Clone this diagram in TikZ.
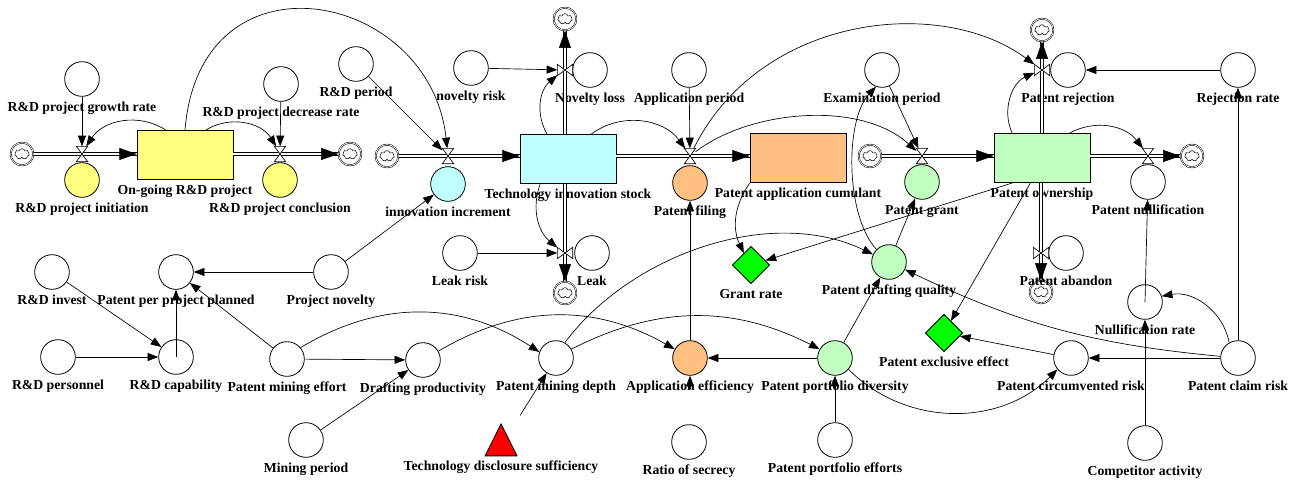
\documentclass[tikz,border=0pt]{standalone}
\usepackage{fontspec}
\setmainfont{Liberation Serif}
\usetikzlibrary{shapes,shapes.geometric,arrows,arrows.meta,positioning,calc}

\definecolor{rdyellow}{HTML}{FFFF80}
\definecolor{techcyan}{HTML}{C0FFFF}
\definecolor{patorange}{HTML}{FFC080}
\definecolor{patgreen}{HTML}{C0FFC0}
\definecolor{rategreen}{HTML}{00FF00}

\begin{document}
\begin{tikzpicture}[
  x=0.75pt, y=-0.75pt,
  line width=0.5pt,
  >={Triangle[length=8pt,width=6pt]},
  lab/.style={font=\bfseries\fontsize{10.3}{12}\selectfont, inner sep=0pt, text height=7pt, text depth=2pt},
  every label/.style={lab},
  label distance=3.5pt,
  aux/.style={circle, draw, line width=0.6pt, minimum size=26pt, inner sep=0pt},
  stock/.style={rectangle, draw, line width=0.6pt, minimum width=72pt, minimum height=37pt, inner sep=0pt},
  rate/.style={diamond, draw, line width=0.6pt, fill=rategreen, minimum size=28pt, inner sep=0pt},
  alarm/.style={isosceles triangle, shape border rotate=90, isosceles triangle stretches,
    draw, line width=0.6pt, fill=red, minimum width=24pt, minimum height=24pt, inner sep=0pt},
  hvalve/.style={rectangle, minimum width=8pt, minimum height=11pt, inner sep=0pt},
  vvalve/.style={rectangle, minimum width=11pt, minimum height=8pt, inner sep=0pt},
  sky/.style={circle, draw, double, double distance=0.5pt, line width=0.4pt, minimum size=17pt, inner sep=0pt,
    path picture={\node[cloud, draw, cloud puffs=7, cloud ignores aspect, minimum width=11pt,
      minimum height=8pt, inner sep=0pt, line width=0.4pt] at (path picture bounding box.center) {};}},
  pipe/.style={double, double distance=2pt, line width=0.6pt},
  flowtip/.style={draw=white, line width=0.4pt, -{Triangle[length=13pt,width=9pt,color=black,fill=black]}},
  info/.style={->}
]
\useasboundingbox (0,0) rectangle (1300,483);

% Stocks
\node[stock, fill=rdyellow, label=below:On-going R\&D project] (rdproj) at (185,155) {};
\node[stock, fill=techcyan, label=below:Technology innovation stock] (techstock) at (568,159) {};
\node[stock, fill=patorange, label=below:Patent application cumulant] (appcum) at (798,158) {};
\node[stock, fill=patgreen, label=below:Patent ownership] (ownership) at (1042,158) {};

% Sources and sinks
\node[sky] (c1) at (22,154) {};
\node[sky] (c2) at (350,154) {};
\node[sky] (c3) at (387,156) {};
\node[sky] (c4) at (565,19) {};
\node[sky] (c5) at (565,293) {};
\node[sky] (c6) at (870,156) {};
\node[sky] (c7) at (1192,156) {};
\node[sky] (c8) at (1042,30) {};
\node[sky] (c9) at (1041,292) {};

% Valves
\node[hvalve] (vinit) at (82,154) {};
\node[hvalve] (vconcl) at (280,154) {};
\node[hvalve] (vinc) at (448,156) {};
\node[hvalve] (vfile) at (690,156) {};
\node[hvalve] (vgrant) at (922,156) {};
\node[hvalve] (vnull) at (1148,156) {};
\node[vvalve] (vloss) at (565,70) {};
\node[vvalve] (vleak) at (565,253) {};
\node[vvalve] (vrej) at (1042,70) {};
\node[vvalve] (vaband) at (1041,253) {};

% Rates
\node[aux, fill=rdyellow, label=below:R\&D project initiation] (initiation) at (82,180) {};
\node[aux, fill=rdyellow, label=below:R\&D project conclusion] (conclusion) at (280,180) {};
\node[aux, fill=techcyan, label=below:innovation increment] (increment) at (448,184) {};
\node[aux, fill=patorange, label=below:Patent filing] (filing) at (690,183) {};
\node[aux, fill=patgreen, label=below:Patent grant] (grant) at (922,182) {};
\node[aux, label=below:Patent nullification] (nullification) at (1148,182) {};
\node[aux, label=below:Novelty loss] (loss) at (590,70) {};
\node[aux, label=below:Leak] (leak) at (592,253) {};
\node[aux, label=below:Patent rejection] (rejection) at (1068,70) {};
\node[aux, label=below:Patent abandon] (abandon) at (1066,253) {};

% Auxiliaries, top
\node[aux, label=below:R\&D project growth rate] (growthrate) at (82,79) {};
\node[aux, label=below:R\&D project decrease rate] (decrrate) at (281,84) {};
\node[aux, label=below:R\&D period] (rdperiod) at (356,64) {};
\node[aux, label=below:novelty risk] (noveltyrisk) at (471,68) {};
\node[aux, label=below:Application period] (appperiod) at (689,70) {};
\node[aux, label=below:Examination period] (examperiod) at (882,70) {};
\node[aux, label=below:Rejection rate] (rejrate) at (1238,70) {};

% Auxiliaries, middle
\node[aux, label=below:Leak risk] (leakrisk) at (460,253) {};
\node[rate, label=below:Grant rate] (grantrate) at (751,265) {};
\node[aux, fill=patgreen, label=below:Patent drafting quality] (draftqual) at (889,262) {};
\node[aux, label=below:R\&D invest] (rdinvest) at (52,272) {};
\node[aux, label=below:Patent per project planned] (perproject) at (176,272) {};
\node[aux, label=below:Project novelty] (projnov) at (331,272) {};
\node[aux, label=below:Nullification rate] (nullrate) at (1145,302) {};
\node[rate, label=below:Patent exclusive effect] (exclusive) at (944,333) {};

% Auxiliaries, bottom
\node[aux, label=below:R\&D personnel] (rdpers) at (58,357) {};
\node[aux, label=below:R\&D capability] (rdcap) at (176,357) {};
\node[aux, label=below:Patent mining effort] (mineff) at (287,359) {};
\node[aux, label=below:Drafting productivity] (draftprod) at (423,360) {};
\node[aux, label=below:Patent mining depth] (minedepth) at (556,358) {};
\node[aux, fill=patorange, label=below:Application efficiency] (appeff) at (690,358) {};
\node[aux, fill=patgreen, label=below:Patent portfolio diversity] (portdiv) at (835,358) {};
\node[aux, label=below:Patent circumvented risk] (circrisk) at (1071,358) {};
\node[aux, label=below:Patent claim risk] (claimrisk) at (1238,358) {};
\node[aux, label=below:Mining period] (minperiod) at (306,440) {};
\node[alarm, label=below:Technology disclosure sufficiency] (disclosure) at (501,446) {};
\node[aux, label=below:Ratio of secrecy] (ratiosec) at (689,442) {};
\node[aux, label=below:Patent portfolio efforts] (portefforts) at (835,440) {};
\node[aux, label=below:Competitor activity] (competitor) at (1145,443) {};
\coordinate (secstub) at (690,389);

% Flow pipes
\draw[pipe] (c1) -- (c1 -| rdproj.west);
\draw[pipe] (rdproj.east |- c2) -- (c2);
\draw[pipe] (c3) -- (c3 -| techstock.west);
\draw[pipe] (techstock.east |- c3) -- (c3 -| appcum.west);
\draw[pipe] (c6) -- (c6 -| ownership.west);
\draw[pipe] (ownership.east |- c7) -- (c7);
\draw[pipe] (c4 |- techstock.north) -- (c4);
\draw[pipe] (c5 |- techstock.south) -- (c5);
\draw[pipe] (c8 |- ownership.north) -- (c8);
\draw[pipe] (c9 |- ownership.south) -- (c9);

% Flow arrow heads
\draw[flowtip] (vinit) -- (c1 -| rdproj.west);
\draw[flowtip] (vconcl) -- (c2);
\draw[flowtip] (vinc) -- (c3 -| techstock.west);
\draw[flowtip] (vfile) -- (c3 -| appcum.west);
\draw[flowtip] (vgrant) -- (c6 -| ownership.west);
\draw[flowtip] (vnull) -- (c7);
\draw[flowtip] (vloss) -- (c4);
\draw[flowtip] (vleak) -- (c5);
\draw[flowtip] (vrej) -- (c8);
\draw[flowtip] (vaband) -- (c9);

% Valve symbols
\foreach \v in {vinit,vconcl,vinc,vfile,vgrant,vnull}
  \draw[fill=white] (\v.north west) -- (\v.south east) -- (\v.south west) -- (\v.north east) -- cycle;
\foreach \v in {vloss,vleak,vrej,vaband}
  \draw[fill=white] (\v.north west) -- (\v.south west) -- (\v.north east) -- (\v.south east) -- cycle;

% R&D project links
\draw[info] (growthrate) -- (vinit);
\draw[info] (rdproj.128) to[bend right=45] (vinit);
\draw[info] (decrrate) -- (vconcl);
\draw[info] (rdproj.50) to[bend left=45] (vconcl);
\draw[info] (rdproj.north) .. controls (200,-55) and (430,-10) .. (vinc);

% Technology innovation links
\draw[info] (rdperiod) -- (vinc);
\draw[info] (projnov) -- (increment);
\draw[info] (noveltyrisk) -- (vloss);
\draw[info] (techstock.130) to[bend left=40] (vloss);
\draw[info] (leakrisk) -- (vleak);
\draw[info] (techstock.222) to[bend right=35] (vleak);
\draw[info] (techstock.47) to[bend left=45] (vfile);

% Patent application links
\draw[info] (appperiod) -- (vfile);
\draw[info] (appeff) -- (filing);
\draw[info] (vfile) .. controls (760,15) and (940,-5) .. (vrej);
\draw[info] (vfile) .. controls (750,110) and (860,100) .. (vgrant);
\draw[info] (examperiod) -- (vgrant);
\draw[info] (draftqual) -- (grant);
\draw[info] (draftqual.135) .. controls (845,215) and (845,120) .. (examperiod.250);
\draw[info] (ownership.220) -- (grantrate);
\draw[info] (appcum.south west) to[bend right=30] (grantrate);

% Patent ownership links
\draw[info] (ownership.42) to[bend left=40] (vnull);
\draw[info] (ownership.140) to[bend left=45] (vrej);
\draw[info] (rejrate) -- (rejection);
\draw[info] (claimrisk) -- (rejrate);
\draw[info] (claimrisk.120) to[bend right=45] (nullrate);
\draw[info] (competitor) -- (nullrate);
\draw[info] (nullrate.center) -- (nullification);
\draw[info] (ownership.245) -- (exclusive);
\draw[info] (circrisk) -- (exclusive);
\draw[info] (claimrisk) -- (circrisk);
\draw[info] (claimrisk) to[bend left=10] (draftqual);

% Capability and mining links
\draw[info] (rdinvest) -- (rdcap);
\draw[info] (rdpers) -- (rdcap);
\draw[info] (rdcap.center) -- (perproject);
\draw[info] (projnov) -- (perproject);
\draw[info] (mineff) -- (perproject);
\draw[info] (mineff) -- (draftprod);
\draw[info] (minperiod) -- (draftprod);
\draw[info] (mineff.40) to[bend left=32] (minedepth.160);
\draw[info] (draftprod.30) to[bend left=30] (appeff.150);
\draw[info] (minedepth.30) to[bend left=27] (portdiv.150);
\draw[info] (minedepth.60) .. controls (630,255) and (770,205) .. (draftqual);
\draw[info, shorten <=18pt] (disclosure) -- (minedepth);

% Portfolio links
\draw[info] (portdiv) -- (appeff);
\draw[info] (portefforts) -- (portdiv);
\draw[info] (portdiv) -- (draftqual);
\draw[info] (portdiv.-40) to[bend right=45] (circrisk.220);
\draw[info] (secstub) -- (appeff);

\end{tikzpicture}
\end{document}
